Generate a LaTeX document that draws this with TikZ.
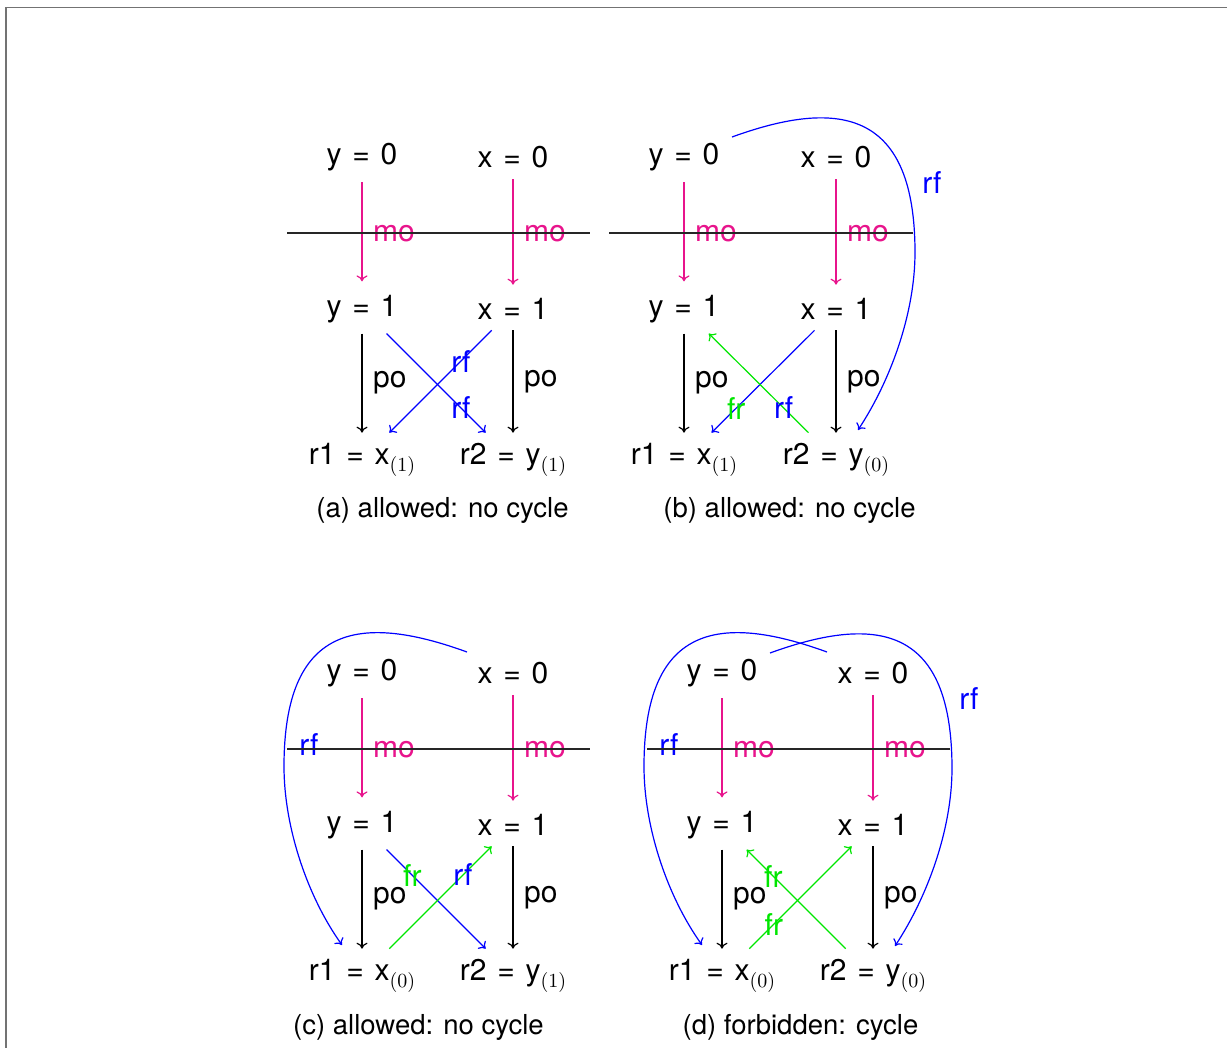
\documentclass[tikz,border=0pt]{standalone}
\usepackage{fontspec}
\setmainfont{TeX Gyre Heros}
\newfontfamily\nodefont{TeX Gyre Heros}[WordSpace=1.3]
\newfontfamily\lmsubfont{lmroman10-regular.otf}
\usetikzlibrary{arrows.meta,calc}
\definecolor{mocol}{RGB}{232,20,140}
\definecolor{rfcol}{RGB}{0,0,255}
\definecolor{frcol}{RGB}{0,230,0}
\newcommand\mysub[1]{\raisebox{-7pt}{\lmsubfont\fontsize{20}{24}\selectfont(#1)}}
\newcommand\mypanel[6]{%
 \node[ev] (#1y0) at (#2,157.5+#4) {y = 0};
 \node[ev] (#1x0) at (#3,157.5+#4) {x = 0};
 \node[ev] (#1y1) at (#2,309+#4) {y = 1};
 \node[ev] (#1x1) at (#3,309+#4) {x = 1};
 \node[ev] (#1r1) at (#2,460+#4) {r1 = x\mysub{#5}};
 \node[ev] (#1r2) at (#3,460+#4) {r2 = y\mysub{#6}};
 \draw[moarrow] (#1y0) -- node[molab]{mo} (#1y1);
 \draw[moarrow] (#1x0) -- node[molab]{mo} (#1x1);
 \draw[poarrow] (#1y1) -- node[polab]{po} (#1r1);
 \draw[poarrow] (#1x1) -- node[polab]{po} (#1r2);
 \coordinate (#1hl) at (#2-75,233+#4);
 \coordinate (#1hr) at (#3+77,233+#4);
}
\newcommand\rcurve[1]{%
 \draw[rfarrow] ($(#1y0)+(48,-20.5)$) .. controls ($(#1y0)+(158,-60.5)$) and ($(#1x0)+(79,-45)$) .. ($(#1x0)+(79,95)$) .. controls ($(#1r2)+(79,-147.5)$) and ($(#1r2)+(55,-80)$) .. ($(#1r2)+(22,-30)$);
 \node[elab,text=rfcol] (#1rfR) at ($(#1x0)+(96,25)$) {rf};
}
\newcommand\lcurve[1]{%
 \draw[rfarrow] ($(#1x0)+(-46,-21.5)$) .. controls ($(#1x0)+(-156,-61.5)$) and ($(#1y0)+(-78,-47)$) .. ($(#1y0)+(-78,93)$) .. controls ($(#1r1)+(-78,-149.5)$) and ($(#1r1)+(-55,-80)$) .. ($(#1r1)+(-20,-31)$);
 \node[elab,text=rfcol] (#1rfL) at ($(#1y0)+(-53,71)$) {rf};
}
\begin{document}
\begin{tikzpicture}[x=1pt,y=-1pt,
  ev/.style={font=\nodefont\fontsize{30}{36}\selectfont, inner sep=10.5pt},
  elab/.style={font=\nodefont\fontsize{30}{36}\selectfont, inner sep=0pt},
  molab/.style={font=\nodefont\fontsize{30}{36}\selectfont, inner sep=10.5pt, right, text=mocol},
  polab/.style={font=\nodefont\fontsize{30}{36}\selectfont, inner sep=10.5pt, right, text=black},
  captext/.style={font=\fontsize{27.5}{33}\selectfont, inner sep=0pt, anchor=base},
  arrowtip/.style={-{To[length=6pt,width=11pt]}, line width=1.2pt},
  moarrow/.style={arrowtip, draw=mocol, shorten >=3pt},
  poarrow/.style={arrowtip, draw=black},
  rfarrow/.style={arrowtip, draw=rfcol},
  frarrow/.style={arrowtip, draw=frcol},
  hline/.style={draw=black!85, line width=1.4pt},
  frameline/.style={draw=black!55, line width=1.8pt}
]
\useasboundingbox (0,0) rectangle (1227,1048);
\coordinate (fbl) at (6,1048);
\coordinate (ftl) at (6,7.5);
\coordinate (ftr) at (1227,7.5);
\draw[frameline] (fbl) -- (ftl) -- (ftr);

% (a)
\mypanel{a}{362}{513}{0}{1}{1}
\draw[rfarrow] (ax1) -- node[elab,text=rfcol,pos=0.3]{rf} (ar1);
\draw[rfarrow] (ay1) -- node[elab,text=rfcol,pos=0.75]{rf} (ar2);
\node[captext] (capa) at (442.5,518) {(a) allowed: no cycle};

% (b)
\mypanel{b}{684}{836}{0}{1}{0}
\draw[rfarrow] (bx1) -- node[elab,text=frcol,pos=0.76]{fr} (br1);
\draw[frarrow] (br2) -- node[elab,text=rfcol,pos=0.25]{rf} (by1);
\rcurve{b}
\node[captext] (capb) at (789.5,518) {(b) allowed: no cycle};

% (c)
\mypanel{c}{362}{513}{516}{0}{1}
\draw[rfarrow] (cy1) -- node[elab,text=frcol,pos=0.26]{fr} (cr2);
\draw[frarrow] (cr1) -- node[elab,text=rfcol,pos=0.72]{rf} (cx1);
\lcurve{c}
\node[captext] (capc) at (418.5,1034) {(c) allowed: no cycle};

% (d)
\mypanel{d}{722}{873}{516}{0}{0}
\draw[frarrow] (dr2) -- node[elab,text=frcol,pos=0.73]{fr} (dy1);
\draw[frarrow] (dr1) -- node[elab,text=frcol,pos=0.24]{fr} (dx1);
\lcurve{d}
\rcurve{d}
\node[captext] (capd) at (800.5,1034) {(d) forbidden: cycle};

% separating lines on top
\draw[hline] (ahl) -- (ahr);
\draw[hline] (bhl) -- (bhr);
\draw[hline] (chl) -- (chr);
\draw[hline] (dhl) -- (dhr);
\end{tikzpicture}
\end{document}
